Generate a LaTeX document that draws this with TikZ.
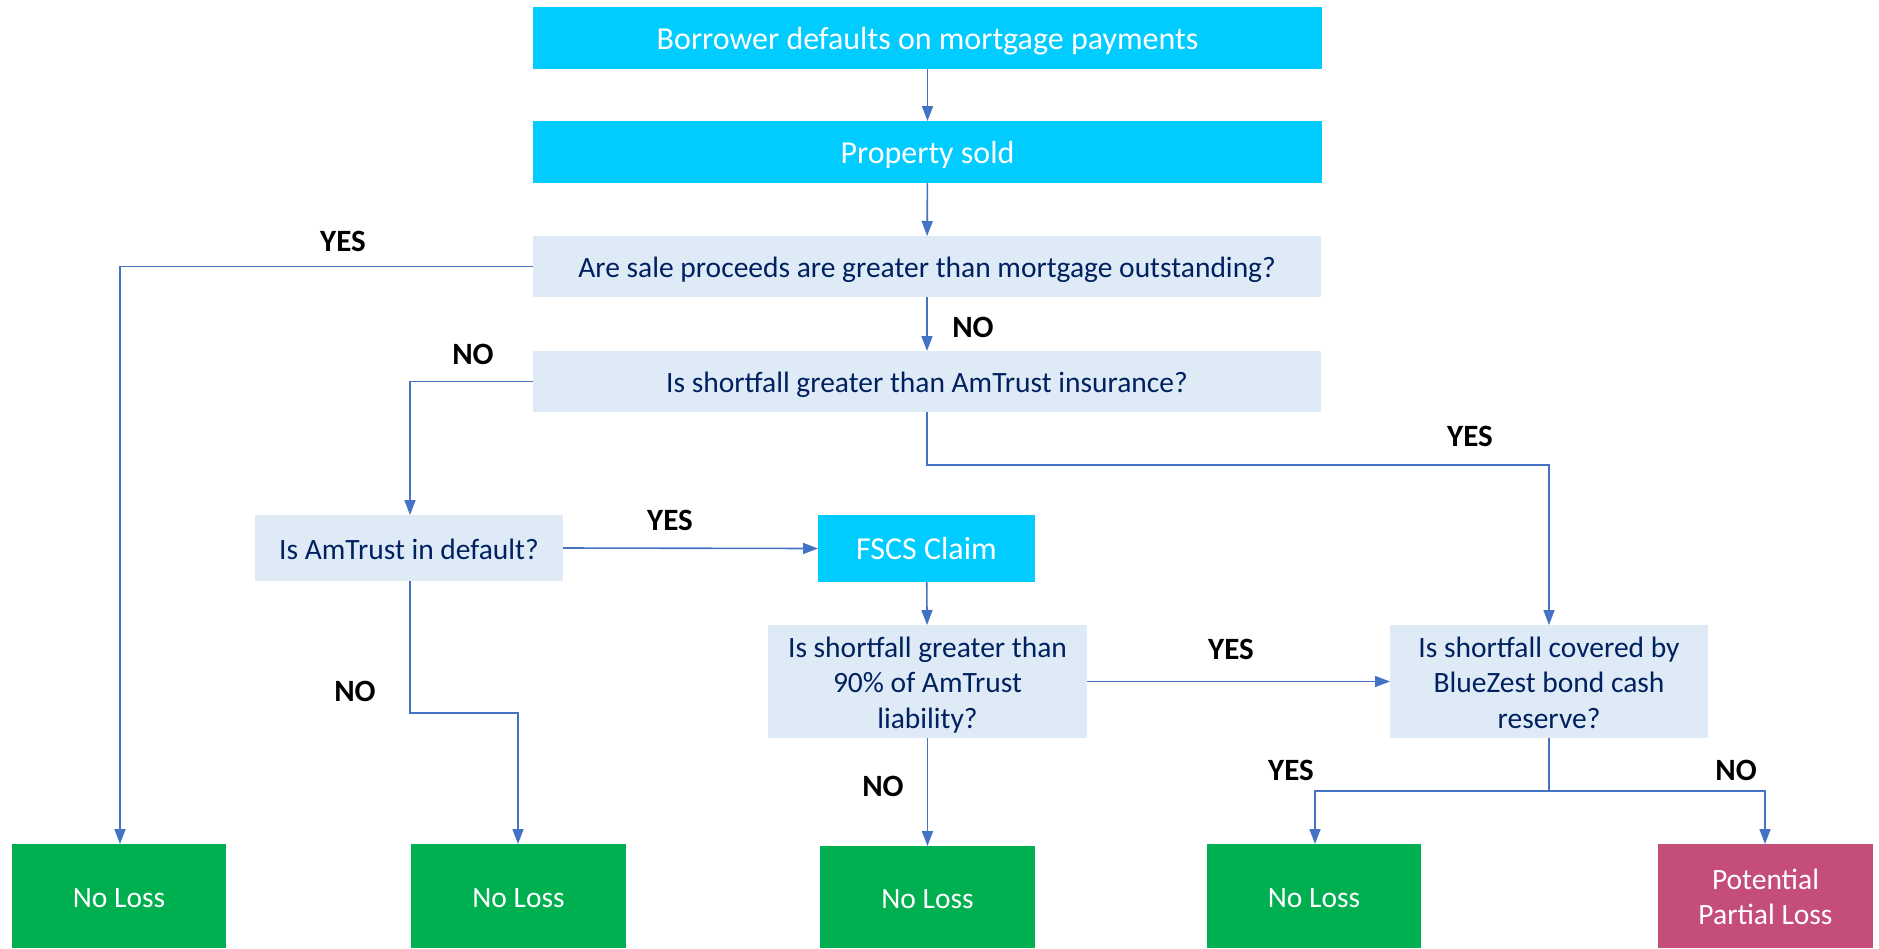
\documentclass[tikz,border=0pt]{standalone}
\usepackage{fontspec}
\setmainfont{Carlito}
\usetikzlibrary{arrows.meta}
\definecolor{cyanbox}{HTML}{00CCFF}
\definecolor{qbox}{HTML}{DEEBF7}
\definecolor{greenbox}{HTML}{00B050}
\definecolor{pinkbox}{HTML}{C44D7A}
\definecolor{navy}{HTML}{002060}
\definecolor{arrowblue}{HTML}{4472C4}
\newcommand\tx[1]{\raisebox{-4pt}[\height][\depth]{\begin{tabular}{@{}c@{}}#1\end{tabular}}}
\tikzset{
  base/.style={inner sep=0pt, outer sep=0pt, align=center, font=\fontsize{29.5}{35.5}\selectfont},
  cyanstep/.style={base, fill=cyanbox, text=white, font=\fontsize{32}{35.5}\selectfont},
  question/.style={base, fill=qbox, text=navy},
  leaf/.style={base, fill=greenbox, text=white},
  lossleaf/.style={base, fill=pinkbox, text=white},
  conn/.style={draw=arrowblue, line width=1.6pt, -{Triangle[length=15pt,width=11pt]}},
  plainconn/.style={draw=arrowblue, line width=1.6pt},
  lbl/.style={font=\fontsize{31}{36}\selectfont\bfseries, text=black, inner sep=0pt}
}
\begin{document}
\begin{tikzpicture}[x=1pt,y=-1pt]
\fill[white] (0,0) rectangle (1879,948);
\useasboundingbox (0,0) rectangle (1879,948);

\node[cyanstep, minimum width=789pt, minimum height=62pt] (top) at (927.5,38) {\tx{Borrower defaults on mortgage payments}};
\node[cyanstep, minimum width=789pt, minimum height=62pt] (sold) at (927.5,152) {\tx{Property sold}};
\node[question, minimum width=788pt, minimum height=61pt] (q1) at (927,266.5) {\tx{Are sale proceeds are greater than mortgage outstanding?}};
\node[question, minimum width=788pt, minimum height=61pt] (q2) at (927,381.5) {\tx{Is shortfall greater than AmTrust insurance?}};
\node[question, minimum width=308pt, minimum height=66pt] (amd) at (409,548) {\tx{Is AmTrust in default?}};
\node[cyanstep, minimum width=217pt, minimum height=67pt] (fscs) at (926.5,548.5) {\tx{FSCS Claim}};
\node[question, minimum width=319pt, minimum height=113pt] (q4) at (927.5,681.5) {\tx{Is shortfall greater than\\90\% of AmTrust\\liability?}};
\node[question, minimum width=318pt, minimum height=113pt] (q5) at (1549,681.5) {\tx{Is shortfall covered by\\BlueZest bond cash\\reserve?}};
\node[leaf, minimum width=214pt, minimum height=104pt] (nl1) at (119,896) {\tx{No Loss}};
\node[leaf, minimum width=215pt, minimum height=104pt] (nl2) at (518.5,896) {\tx{No Loss}};
\node[leaf, minimum width=215pt, minimum height=102pt] (nl3) at (927.5,897) {\tx{No Loss}};
\node[leaf, minimum width=214pt, minimum height=104pt] (nl4) at (1314,896) {\tx{No Loss}};
\node[lossleaf, minimum width=215pt, minimum height=104pt] (ppl) at (1765.5,896) {\tx{Potential\\Partial Loss}};

\coordinate (c1) at (120,266.5);
\coordinate (c2) at (410,381.5);
\coordinate (c3a) at (927,465);
\coordinate (c3b) at (1549,465);
\coordinate (c4a) at (410,713);
\coordinate (c4b) at (518,713);
\coordinate (fork) at (1549,791);
\coordinate (f1) at (1315,791);
\coordinate (f2) at (1765,791);

\draw[conn] (top) -- (sold);
\draw[conn] (sold) -- (q1);
\draw[conn] (q1) -- (q2);
\draw[conn] (q1.west) -- (c1) -- (nl1.north -| c1);
\draw[conn] (q2.west) -- (c2) -- (amd.north -| c2);
\draw[conn] (q2.south) -- (c3a) -- (c3b) -- (q5.north);
\draw[conn] (amd.east) -- (fscs.west);
\draw[conn] (amd.south -| c4a) -- (c4a) -- (c4b) -- (nl2.north -| c4b);
\draw[conn] (fscs) -- (q4);
\draw[conn] (q4.east) -- (q5.west);
\draw[conn] (q4) -- (nl3);
\draw[plainconn] (q5.south) -- (fork);
\draw[conn] (fork) -- (f1) -- (nl4.north -| f1);
\draw[conn] (fork) -- (f2) -- (ppl.north -| f2);

\node[lbl] (y1) at (343,241) {YES};
\node[lbl] (n1) at (973,327) {NO};
\node[lbl] (n2) at (473,354) {NO};
\node[lbl] (y2) at (1470,436) {YES};
\node[lbl] (y3) at (670,520) {YES};
\node[lbl] (n3) at (355,691) {NO};
\node[lbl] (y4) at (1231,649) {YES};
\node[lbl] (n4) at (883,786) {NO};
\node[lbl] (y5) at (1291,770) {YES};
\node[lbl] (n5) at (1736,770) {NO};
\end{tikzpicture}
\end{document}
